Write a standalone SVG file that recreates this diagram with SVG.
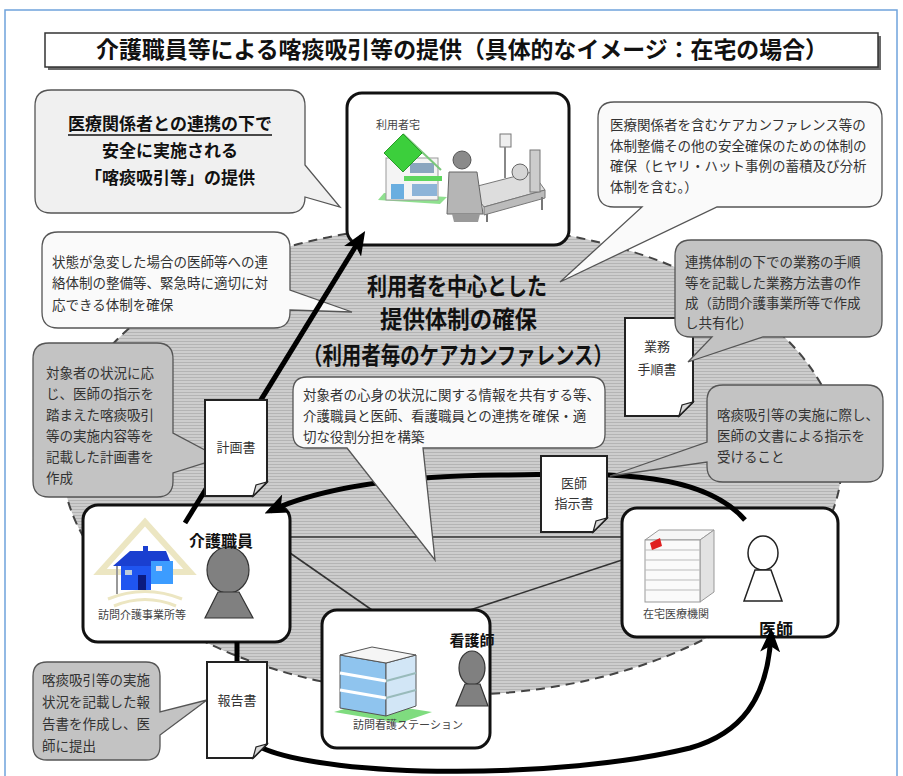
<svg xmlns="http://www.w3.org/2000/svg" width="903" height="776" viewBox="0 0 903 776">
<defs>
<style>
.t{font-family:"Noto Sans CJK JP","Noto Sans",sans-serif;}
.b{font-weight:700;fill:#111;}
.s{font-size:13.5px;fill:#333;}
.sm{font-size:11px;fill:#444;text-anchor:middle;}
.node{fill:#fff;stroke:#111;stroke-width:3;}
.co-w{fill:#fafafa;stroke:#555;stroke-width:1.3;}
.co-g{fill:#c3c3c3;stroke:#555;stroke-width:1.3;}
.doc{fill:#fff;stroke:#222;stroke-width:2;}
.fold{fill:#d8d8d8;stroke:#222;stroke-width:1.2;}
.dt{font-size:13px;fill:#333;text-anchor:middle;}
.rel{stroke:#333;stroke-width:1.6;fill:none;}
.flow{stroke:#000;stroke-width:5;fill:none;}
</style>
<pattern id="hatch" width="6" height="3" patternUnits="userSpaceOnUse"><rect width="6" height="3" fill="#cdcdcd"/><rect y="2" width="6" height="1" fill="#b4b4b4"/></pattern>
<marker id="head" viewBox="0 0 24 20" refX="18" refY="10" markerWidth="24" markerHeight="20" orient="auto" markerUnits="userSpaceOnUse"><path d="M0,0 L24,10 L0,20 L6,10 Z" fill="#000"/></marker>
</defs>

<rect width="903" height="776" fill="#fff"/>
<rect x="5" y="10" width="892" height="770" fill="none" stroke="#6fa3dc" stroke-width="1.5"/>

<!-- title -->
<g id="title">
<rect x="48" y="36" width="833" height="34" fill="#6a6a6a"/>
<rect x="45" y="33" width="833" height="34" fill="#fff" stroke="#333" stroke-width="1.5"/>
<text class="t b" x="96" y="58" font-size="23" textLength="732" lengthAdjust="spacingAndGlyphs">介護職員等による喀痰吸引等の提供（具体的なイメージ：在宅の場合）</text>
</g>

<!-- shared care area -->
<g id="care-area">
<ellipse cx="452" cy="460" rx="390" ry="235" fill="url(#hatch)" stroke="#444" stroke-width="2" stroke-dasharray="9 6"/>
<text class="t b" x="367" y="295" font-size="24" textLength="180" lengthAdjust="spacingAndGlyphs">利用者を中心とした</text>
<text class="t b" x="380" y="328" font-size="24" textLength="157" lengthAdjust="spacingAndGlyphs">提供体制の確保</text>
<text class="t b" x="303" y="364" font-size="24" textLength="310" lengthAdjust="spacingAndGlyphs">（利用者毎のケアカンファレンス）</text>
</g>

<!-- relations between the care team -->
<g id="relations">
<line class="rel" x1="290" y1="537" x2="622" y2="537"/>
<line class="rel" x1="290" y1="553" x2="372" y2="610"/>
<line class="rel" x1="622" y1="560" x2="470" y2="610"/>
</g>

<!-- user's home -->
<g id="node-home">
<rect class="node" x="347" y="93" width="222" height="152" rx="15"/>
<text class="t sm" x="398" y="129">利用者宅</text>
<polygon points="378,200 440,204 447,197 384,193" fill="#8fe08f"/>
<rect x="386" y="158" width="52" height="42" fill="#f4f4f4" stroke="#999"/>
<rect x="410" y="163" width="24" height="10" fill="#8aa6bf"/>
<rect x="404" y="176" width="38" height="5" fill="#5ed65e"/>
<rect x="391" y="184" width="13" height="15" fill="#6aaee0"/>
<rect x="412" y="184" width="25" height="12" fill="#8cb4d8"/>
<polyline points="403,134 441,170" fill="none" stroke="#7ac77a" stroke-width="2"/>
<polygon points="403,134 422,153 403,172 384,153" fill="#3ccf3c" stroke="#2a9a2a"/>
<rect x="500" y="134" width="11" height="13" fill="#eee" stroke="#777"/>
<line x1="505" y1="147" x2="505" y2="178" stroke="#888" stroke-width="2"/>
<polygon points="470,188 532,172 545,190 484,207" fill="#ddd" stroke="#777"/>
<polygon points="484,207 545,190 545,198 484,215" fill="#bbb" stroke="#777"/>
<line x1="487" y1="214" x2="487" y2="222" stroke="#777" stroke-width="2"/>
<line x1="542" y1="197" x2="542" y2="210" stroke="#777" stroke-width="2"/>
<rect x="530" y="150" width="10" height="42" fill="#ccc" stroke="#777"/>
<circle cx="520" cy="172" r="8" fill="#d5d5d5" stroke="#666"/>
<circle cx="462" cy="160" r="9" fill="#8a8a8a" stroke="#555"/>
<path d="M449,172 H477 L483,214 H447 Z" fill="#b5b5b5" stroke="#666"/>
<polygon points="452,214 480,214 478,222 454,222" fill="#999"/>
</g>

<!-- home-visit care office -->
<g id="node-care">
<rect class="node" x="83" y="505" width="207" height="137" rx="15"/>
<polygon points="145,522 190,572 100,572" fill="none" stroke="#ece6c2" stroke-width="6"/>
<path d="M108,599 Q145,584 182,599" fill="none" stroke="#ece6c2" stroke-width="3"/>
<path d="M114,606 Q145,593 176,606" fill="none" stroke="#ece6c2" stroke-width="3"/>
<line x1="117" y1="565" x2="117" y2="594" stroke="#999" stroke-width="2"/>
<rect x="143" y="546" width="5" height="7" fill="#1a3fd0"/>
<polygon points="113,566 130,551 166,551 172,566" fill="#1a3fd0"/>
<rect x="121" y="566" width="30" height="24" fill="#1f55f0"/>
<rect x="151" y="561" width="22" height="23" fill="#3c9cff"/>
<rect x="125" y="570" width="7" height="5" fill="#bcd"/>
<rect x="156" y="566" width="6" height="5" fill="#dde"/>
<rect x="138" y="575" width="8" height="15" fill="#0b1a80"/>
<text class="t sm" x="142" y="619">訪問介護事業所等</text>
<ellipse cx="228" cy="570" rx="21" ry="23" fill="#808080" stroke="#333" stroke-width="1.2"/>
<polygon points="218,592 239,592 253,618 205,618" fill="#808080" stroke="#333" stroke-width="1.2"/>
<text class="t b" x="221" y="547" font-size="16" text-anchor="middle">介護職員</text>
</g>

<!-- visiting nurse station -->
<g id="node-nurse">
<rect class="node" x="322" y="610" width="168" height="138" rx="15"/>
<polygon points="334,712 400,723 432,712 368,702" fill="#7fdc7f"/>
<polygon points="340,655 386,663 386,716 340,708" fill="#8fc4ee" stroke="#555"/>
<polygon points="386,663 416,655 416,706 386,716" fill="#d2e6f6" stroke="#555"/>
<polygon points="340,655 372,647 416,655 386,663" fill="#f5f5f5" stroke="#555"/>
<line x1="340" y1="673" x2="386" y2="681" stroke="#fff" stroke-width="3"/>
<line x1="340" y1="690" x2="386" y2="698" stroke="#fff" stroke-width="3"/>
<line x1="386" y1="681" x2="416" y2="673" stroke="#9bb" stroke-width="2"/>
<line x1="386" y1="698" x2="416" y2="690" stroke="#9bb" stroke-width="2"/>
<text class="t sm" x="408" y="729">訪問看護ステーション</text>
<text class="t b" x="472" y="646" font-size="15" text-anchor="middle">看護師</text>
<ellipse cx="472" cy="668" rx="13" ry="17" fill="#808080" stroke="#333" stroke-width="1.2"/>
<polygon points="465,684 480,684 488,706 456,706" fill="#808080" stroke="#333" stroke-width="1.2"/>
</g>

<!-- home medical institution -->
<g id="node-doctor">
<rect class="node" x="622" y="508" width="216" height="129" rx="15"/>
<polygon points="645,540 700,540 714,530 659,530" fill="#f6f6f6" stroke="#999"/>
<polygon points="700,540 714,530 714,592 700,602" fill="#e2e2e2" stroke="#999"/>
<rect x="645" y="540" width="55" height="62" fill="#fafafa" stroke="#999"/>
<g stroke="#bbb" stroke-width="1">
<line x1="645" y1="550" x2="700" y2="550"/><line x1="645" y1="560" x2="700" y2="560"/>
<line x1="645" y1="570" x2="700" y2="570"/><line x1="645" y1="580" x2="700" y2="580"/>
<line x1="645" y1="590" x2="700" y2="590"/>
</g>
<polygon points="650,543 660,538 662,546 652,550" fill="#e02020"/>
<text class="t sm" x="676" y="618">在宅医療機関</text>
<ellipse cx="763" cy="553" rx="15" ry="17" fill="#fff" stroke="#222" stroke-width="1.5"/>
<polygon points="755,570 771,570 782,601 744,601" fill="#fff" stroke="#222" stroke-width="1.5"/>
<text class="t b" x="776" y="636" font-size="17" text-anchor="middle">医師</text>
</g>

<!-- flows of instruction and report -->
<g id="connectors">
<path class="flow" d="M745,520 C700,468 600,474 500,475 C400,476 320,488 270,511" marker-end="url(#head)"/>
<path class="flow" d="M262,748 C330,778 560,780 690,748 C740,734 768,700 771,634" marker-end="url(#head)"/>
<line class="flow" x1="237" y1="642" x2="237" y2="662"/>
</g>

<!-- documents under their callouts -->
<g id="doc-manual">
<path class="doc" d="M625,318 H693 V402 L679,416 H625 Z"/>
<polygon class="fold" points="693,402 679,416 682,405"/>
<text class="t dt" x="657" y="351">業務</text>
<text class="t dt" x="657" y="374">手順書</text>
</g>

<!-- explanatory callouts -->
<g id="callout-center">
<path class="co-w" d="M307,377 H591 Q605,377 605,391 V434 Q605,448 591,448 H423 L435,560 L347,448 H307 Q293,448 293,434 V391 Q293,377 307,377 Z"/>
<text class="t s" x="303" y="400">対象者の心身の状況に関する情報を共有する等、</text>
<text class="t s" x="303" y="421">介護職員と医師、看護職員との連携を確保・適</text>
<text class="t s" x="303" y="442">切な役割分担を構築</text>
</g>

<g id="callout-safety">
<path d="M51,90 H289 Q305,90 305,106 V165 L340,207 L305,197 Q305,213 289,213 H51 Q35,213 35,197 V106 Q35,90 51,90 Z" fill="#f0f0f0" stroke="#555" stroke-width="1.3"/>
<text class="t b" x="170" y="130" font-size="17" text-anchor="middle">医療関係者との連携の下で</text>
<line x1="68" y1="135" x2="272" y2="135" stroke="#111" stroke-width="1.3"/>
<text class="t b" x="170" y="157" font-size="17" text-anchor="middle">安全に実施される</text>
<text class="t b" x="170" y="184" font-size="17" text-anchor="middle">「喀痰吸引等」の提供</text>
</g>

<g id="callout-conference">
<path class="co-w" d="M614,102 H866 Q882,102 882,118 V191 Q882,207 866,207 H717 L560,282 L642,207 H614 Q598,207 598,191 V118 Q598,102 614,102 Z"/>
<text class="t s" x="610" y="130" font-size="13.8">医療関係者を含むケアカンファレンス等の</text>
<text class="t s" x="610" y="150.5" font-size="13.8">体制整備その他の安全確保のための体制の</text>
<text class="t s" x="610" y="171" font-size="13.8">確保（ヒヤリ・ハット事例の蓄積及び分析</text>
<text class="t s" x="610" y="191.5" font-size="13.8">体制を含む。）</text>
</g>

<g id="callout-emergency">
<path class="co-w" d="M58,232 H274 Q290,232 290,248 V290 L352,312 L290,310 V312 Q290,328 274,328 H58 Q42,328 42,312 V248 Q42,232 58,232 Z"/>
<text class="t s" x="52" y="267">状態が急変した場合の医師等への連</text>
<text class="t s" x="52" y="288">絡体制の整備等、緊急時に適切に対</text>
<text class="t s" x="52" y="310">応できる体制を確保</text>
</g>

<g id="callout-manual">
<path class="co-g" d="M691,240 H866 Q882,240 882,256 V321 Q882,337 866,337 H763 L688,362 L712,337 H691 Q675,337 675,321 V256 Q675,240 691,240 Z"/>
<text class="t s" x="685" y="267" font-size="13.7">連携体制の下での業務の手順</text>
<text class="t s" x="685" y="288" font-size="13.7">等を記載した業務方法書の作</text>
<text class="t s" x="685" y="308" font-size="13.7">成（訪問介護事業所等で作成</text>
<text class="t s" x="685" y="328" font-size="13.7">し共有化）</text>
</g>

<g id="callout-plan">
<path class="co-g" d="M49,343 H157 Q173,343 173,359 V433 L220,458 L173,473 V481 Q173,497 157,497 H49 Q33,497 33,481 V359 Q33,343 49,343 Z"/>
<text class="t s" x="46" y="378">対象者の状況に応</text>
<text class="t s" x="46" y="399">じ、医師の指示を</text>
<text class="t s" x="46" y="420">踏まえた喀痰吸引</text>
<text class="t s" x="46" y="441">等の実施内容等を</text>
<text class="t s" x="46" y="462">記載した計画書を</text>
<text class="t s" x="46" y="483">作成</text>
</g>

<g id="callout-order">
<path class="co-g" d="M723,385 H867 Q883,385 883,401 V466 Q883,482 867,482 H723 Q707,482 707,466 V462 L610,476 L707,442 V401 Q707,385 723,385 Z"/>
<text class="t s" x="717" y="420" font-size="13">喀痰吸引等の実施に際し、</text>
<text class="t s" x="717" y="441" font-size="13">医師の文書による指示を</text>
<text class="t s" x="717" y="462" font-size="13">受けること</text>
</g>

<g id="callout-report">
<path class="co-g" d="M47,662 H146 Q160,662 160,676 V712 L207,700 L160,735 V746 Q160,760 146,760 H47 Q33,760 33,746 V676 Q33,662 47,662 Z"/>
<text class="t s" x="42" y="685">喀痰吸引等の実施</text>
<text class="t s" x="42" y="707">状況を記載した報</text>
<text class="t s" x="42" y="729">告書を作成し、医</text>
<text class="t s" x="42" y="751">師に提出</text>
</g>

<!-- care worker's visit to the home -->
<g id="connector-visit">
<path class="flow" d="M185,523 L362,236" marker-end="url(#head)"/>
</g>

<!-- documents -->
<g id="doc-plan">
<path class="doc" d="M205,400 H267 V482 L253,496 H205 Z"/>
<polygon class="fold" points="267,482 253,496 256,485"/>
<text class="t dt" x="236" y="452">計画書</text>
</g>
<g id="doc-order">
<path class="doc" d="M541,456 H607 V518 L593,532 H541 Z"/>
<polygon class="fold" points="607,518 593,532 596,521"/>
<text class="t dt" x="574" y="488">医師</text>
<text class="t dt" x="574" y="508">指示書</text>
</g>
<g id="doc-report">
<path class="doc" d="M207,662 H267 V744 L253,758 H207 Z"/>
<polygon class="fold" points="267,744 253,758 256,747"/>
<text class="t dt" x="237" y="705">報告書</text>
</g>
</svg>
